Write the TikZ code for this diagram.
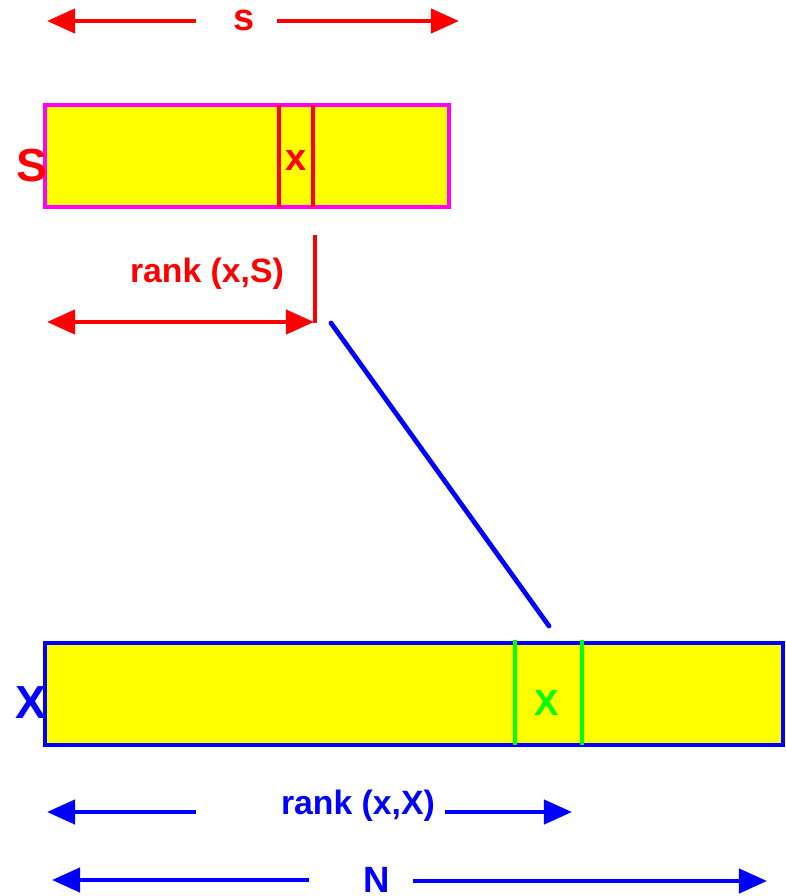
\documentclass[tikz,border=0pt]{standalone}
\usepackage{fontspec}
\setmainfont{Liberation Sans}
\usepackage{xcolor}
\usepackage{tikz}
\usetikzlibrary{arrows.meta, positioning, calc}

\definecolor{pred}{RGB}{255,0,0}
\definecolor{pblue}{RGB}{0,0,255}
\definecolor{pgreen}{RGB}{0,255,0}
\definecolor{pmag}{RGB}{255,0,255}
\definecolor{pyel}{RGB}{255,255,0}

\begin{document}
\begin{tikzpicture}[
    x=0.025cm, y=-0.025cm,
    bar/.style={draw, fill=pyel, line width=2.6pt, minimum height=2.55cm, inner sep=0pt},
    divider/.style={line width=2.6pt},
    lbl/.style={font=\fontsize{24}{28}\selectfont\bfseries, inner sep=1pt},
    big/.style={font=\fontsize{33}{38}\selectfont\bfseries, inner sep=0pt},
    tip/.tip={Triangle[length=7mm, width=6mm]},
    arr/.style={line width=3pt, -tip},
    darr/.style={line width=3pt, tip-tip}
]
\useasboundingbox (0,0) rectangle (786,896);

% Sample S
\node[lbl, red, font=\fontsize{27}{30}\selectfont\bfseries] (slbl) at (244,20) {s};
\coordinate (sL) at (47,21);
\coordinate (sR) at (459,21);
\draw[arr, pred] (196,21) -- (sL);
\draw[arr, pred] (277,21) -- (sR);

\node[bar, draw=pmag, minimum width=10.1cm] (S) at (247,156) {};
\draw[divider, pred] (279,105) -- (279,207);
\draw[divider, pred] (313,105) -- (313,207);
\node[lbl, pred, font=\fontsize{27}{30}\selectfont\bfseries] (sx) at (296,160) {x};
\node[big, pred] (Slab) at (32,166) {S};

% rank in S
\coordinate (rsTop) at (315,235);
\coordinate (rsBot) at (315,323);
\draw[divider, pred] (rsTop) -- (rsBot);
\node[lbl, pred] (rsl) at (207,274) {rank (x,S)};
\coordinate (rsL) at (47,322);
\coordinate (rsR) at (314,322);
\draw[darr, pred] (rsL) -- (rsR);

% mapping to X
\coordinate (mapA) at (331,323);
\coordinate (mapB) at (549,626);
\draw[pblue, line width=3.4pt, line cap=round] (mapA) -- (mapB);

% Input X
\node[bar, draw=pblue, minimum width=18.45cm] (X) at (414,694) {};
\draw[divider, pgreen] (515,640) -- (515,745);
\draw[divider, pgreen] (582,640) -- (582,745);
\node[lbl, pgreen, font=\fontsize{26}{30}\selectfont\bfseries] (xx) at (547,703) {X};
\node[big, pblue] (Xlab) at (31,703) {X};

% rank in X
\node[lbl, pblue] (rxl) at (358,806) {rank (x,X)};
\coordinate (rxL) at (47,812);
\coordinate (rxR) at (572,812);
\draw[arr, pblue] (196,812) -- (rxL);
\draw[arr, pblue] (445,812) -- (rxR);

% size N
\node[lbl, pblue, font=\fontsize{26}{30}\selectfont\bfseries] (nl) at (377,880) {N};
\coordinate (nL) at (52,880);
\coordinate (nR) at (767,881);
\draw[arr, pblue] (309,880) -- (nL);
\draw[arr, pblue] (413,881) -- (nR);

\end{tikzpicture}
\end{document}
